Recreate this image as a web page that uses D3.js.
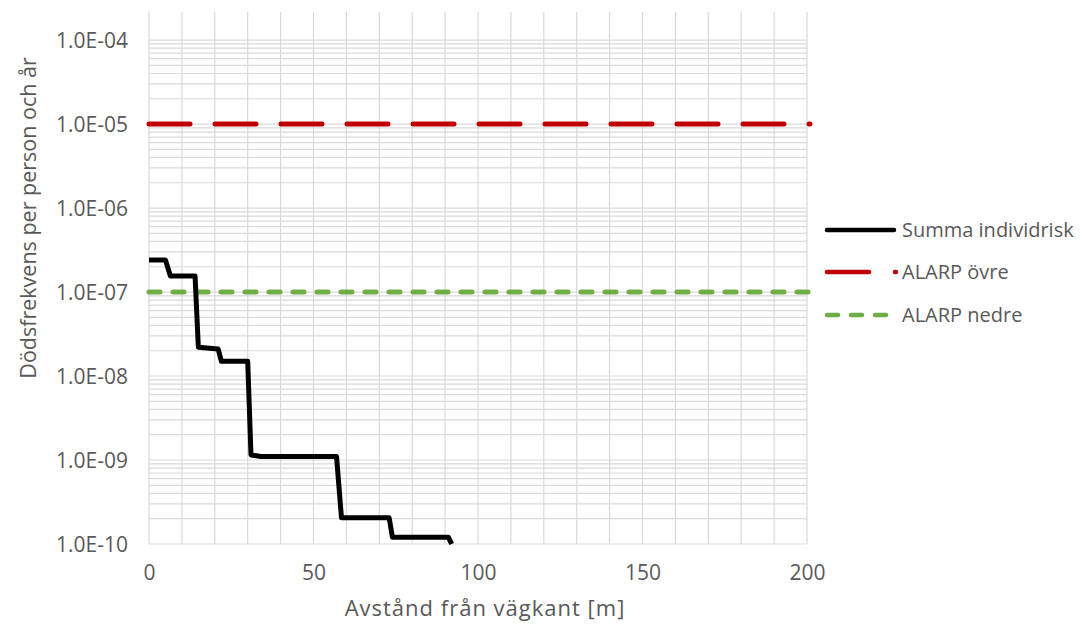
<!DOCTYPE html>
<html>
<head>
<meta charset="utf-8">
<script src="https://cdn.jsdelivr.net/npm/d3@7"></script>
<style>
  body { margin: 0; background: #fff; }
  svg text { font-family: "Open Sans", sans-serif; fill: #595959; }
</style>
</head>
<body>
<div id="chart"></div>
<script>
const W = 1082, H = 624;
const M = { left: 149, right: 807, top: 12, bottom: 544 };

// data
const distance = [0, 5, 6.5, 14, 15, 21, 22, 30, 31, 34, 57, 58.5, 73, 74, 91, 92];
const risk = [2.4e-7, 2.4e-7, 1.55e-7, 1.55e-7, 2.2e-8, 2.1e-8, 1.5e-8, 1.5e-8,
              1.15e-9, 1.1e-9, 1.1e-9, 2.05e-10, 2.05e-10, 1.2e-10, 1.2e-10, 1.0e-10];
const alarpUpper = 1e-5;
const alarpLower = 1e-7;
const xTicks = [0, 50, 100, 150, 200];
const yTicks = [1e-10, 1e-9, 1e-8, 1e-7, 1e-6, 1e-5, 1e-4];
const legendNames = ['Summa individrisk', 'ALARP övre', 'ALARP nedre'];

const svg = d3.select('#chart').append('svg')
  .attr('width', W).attr('height', H);

const x = d3.scaleLinear().domain([0, 200]).range([M.left, M.right]);
const y = d3.scaleLog().domain([1e-10, Math.pow(10, -4 + 0.334)]).range([M.bottom, M.top]);

// grid
const minor = [];
for (let e = -10; e < -4; e++) for (let k = 1; k <= 9; k++) minor.push(k * Math.pow(10, e));
minor.push(1e-4);

svg.append('g').selectAll('line').data(minor).enter().append('line')
  .attr('x1', M.left).attr('x2', M.right)
  .attr('y1', d => y(d)).attr('y2', d => y(d))
  .attr('stroke', '#d9d9d9').attr('stroke-width', 1.2);

svg.append('g').selectAll('line').data(d3.range(0, 201, 10)).enter().append('line')
  .attr('x1', d => x(d)).attr('x2', d => x(d))
  .attr('y1', M.top).attr('y2', M.bottom)
  .attr('stroke', '#d9d9d9').attr('stroke-width', 1.2);

// axes (labels only)
const xAxis = svg.append('g')
  .attr('transform', `translate(0,${M.bottom})`)
  .call(d3.axisBottom(x).tickValues(xTicks).tickSize(0).tickPadding(21));
const yAxis = svg.append('g')
  .attr('transform', `translate(${M.left},0)`)
  .call(d3.axisLeft(y).tickValues(yTicks).tickSize(0).tickPadding(21)
    .tickFormat(d => '1.0E-' + String(-Math.round(Math.log10(d))).padStart(2, '0')));
[xAxis, yAxis].forEach(a => {
  a.select('.domain').remove();
  a.selectAll('text').style('font-family', '"Open Sans", sans-serif')
    .style('font-size', '21px').attr('fill', '#595959');
});
yAxis.selectAll('text').attr('dy', '0.34em');

// ALARP lines
const hline = (v, color, dash) => svg.append('line')
  .attr('x1', x(0)).attr('x2', x(200) + 3)
  .attr('y1', y(v)).attr('y2', y(v))
  .attr('stroke', color).attr('stroke-width', 5)
  .attr('stroke-dasharray', dash).attr('stroke-linecap', 'round');
hline(alarpUpper, '#c00000', '41 25');
hline(alarpLower, '#70ad47', '11 13');

// risk curve
const line = d3.line().x(d => x(d[0])).y(d => y(d[1]));
svg.append('path')
  .datum(distance.map((d, i) => [d, risk[i]]))
  .attr('d', line)
  .attr('fill', 'none').attr('stroke', '#000').attr('stroke-width', 5)
  .attr('stroke-linejoin', 'round');

// axis titles
svg.append('text')
  .attr('x', (343 + 627) / 2).attr('y', 616)
  .attr('text-anchor', 'middle').style('font-size', '22px').style('letter-spacing', '1px')
  .text('Avstånd från vägkant [m]');
svg.append('text')
  .attr('transform', `translate(36,218) rotate(-90)`)
  .attr('text-anchor', 'middle').style('font-size', '21.5px')
  .text('Dödsfrekvens per person och år');

// legend
const lg = svg.append('g');
const ly = [230, 272, 315];
lg.append('line').attr('x1', 827).attr('x2', 894).attr('y1', ly[0]).attr('y2', ly[0])
  .attr('stroke', '#000').attr('stroke-width', 4.5).attr('stroke-linecap', 'round');
lg.append('line').attr('x1', 827).attr('x2', 896).attr('y1', ly[1]).attr('y2', ly[1])
  .attr('stroke', '#c00000').attr('stroke-width', 4.5).attr('stroke-linecap', 'round')
  .attr('stroke-dasharray', '42 26');
lg.append('line').attr('x1', 827).attr('x2', 890).attr('y1', ly[2]).attr('y2', ly[2])
  .attr('stroke', '#70ad47').attr('stroke-width', 4.5).attr('stroke-linecap', 'round')
  .attr('stroke-dasharray', '11 13');
lg.selectAll('text').data(legendNames).enter().append('text')
  .attr('x', 902).attr('y', (d, i) => ly[i] + 7)
  .style('font-size', '20px')
  .text(d => d);
</script>
</body>
</html>
